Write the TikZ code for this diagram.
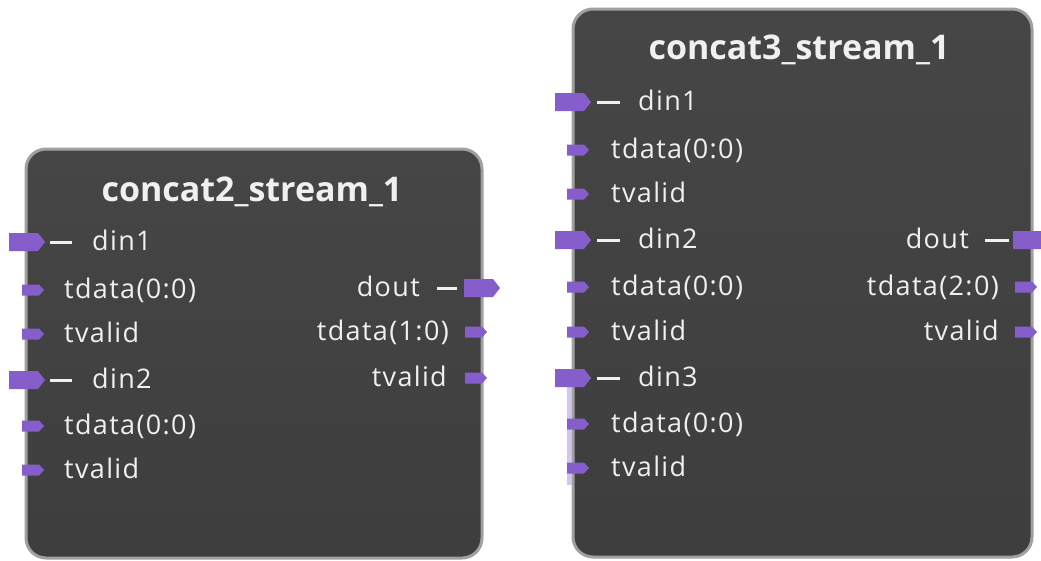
\documentclass[tikz,border=0pt]{standalone}
\usepackage{fontspec}
\setmainfont{Open Sans}
\definecolor{portc}{RGB}{134,94,204}
\definecolor{blockfill}{RGB}{70,70,70}
\definecolor{blockline}{RGB}{160,160,160}
\definecolor{txt}{RGB}{240,240,240}
\tikzset{
  block/.style={draw=blockline, line width=3pt, rounded corners=20pt, top color=blockfill, bottom color=blockfill!88!black, inner sep=0pt},
  lbl/.style={text=txt, inner sep=0pt, font=\fontsize{27}{30}\selectfont\addfontfeatures{LetterSpace=5}},
  ttl/.style={text=txt, inner sep=0pt, font=\fontsize{34}{38}\selectfont\bfseries},
  dashln/.style={draw=txt, line width=3pt},
  pics/bigport/.style={code={\fill[portc] (0,-9) -- (29,-9) -- (36,0) -- (29,9) -- (0,9) -- cycle;}},
  pics/smallport/.style={code={\fill[portc] (0,-5.5) -- (17,-5.5) -- (22,0) -- (17,5.5) -- (0,5.5) -- cycle;}},
}
\begin{document}
\begin{tikzpicture}[x=1pt, y=-1pt]
\useasboundingbox (0,0) rectangle (1041,560);
\clip (0,0) rectangle (1041,560);
% blocks
\node[block, minimum width=456pt, minimum height=409pt] (b1) at (254,353.5) {};
\node[block, minimum width=459pt, minimum height=548pt] (b2) at (802.5,283) {};
\node[ttl, anchor=mid] (t1) at (252,199) {concat2\_stream\_1};
\node[ttl, anchor=mid] (t2) at (799,57) {concat3\_stream\_1};
% faint highlight
\fill[portc!45!white, opacity=0.8] (567,385) rectangle (572,485);
% ---- block 1 inputs
\pic at (9,242) {bigport};
\draw[dashln] (50,242) -- (72,242);
\node[lbl, anchor=mid west] (b1din1) at (92,248) {din1};
\pic at (22,290) {smallport};
\node[lbl, anchor=mid west] (b1td1) at (64,296) {tdata(0:0)};
\pic at (22,334) {smallport};
\node[lbl, anchor=mid west] (b1tv1) at (64,340) {tvalid};
\pic at (9,380) {bigport};
\draw[dashln] (50,380) -- (72,380);
\node[lbl, anchor=mid west] (b1din2) at (92,386) {din2};
\pic at (22,426) {smallport};
\node[lbl, anchor=mid west] (b1td2) at (64,432) {tdata(0:0)};
\pic at (22,470) {smallport};
\node[lbl, anchor=mid west] (b1tv2) at (64,476) {tvalid};
% ---- block 1 outputs
\pic at (464,288) {bigport};
\draw[dashln] (437,288) -- (457,288);
\node[lbl, anchor=mid east] (b1dout) at (420,294) {dout};
\pic at (465,332) {smallport};
\node[lbl, anchor=mid east] (b1tdo) at (449,338) {tdata(1:0)};
\pic at (465,378) {smallport};
\node[lbl, anchor=mid east] (b1tvo) at (447,384) {tvalid};
% ---- block 2 inputs
\pic at (555,102) {bigport};
\draw[dashln] (597,102) -- (620,102);
\node[lbl, anchor=mid west] (b2din1) at (638,108) {din1};
\pic at (567,150) {smallport};
\node[lbl, anchor=mid west] (b2td1) at (611,156) {tdata(0:0)};
\pic at (567,194) {smallport};
\node[lbl, anchor=mid west] (b2tv1) at (611,200) {tvalid};
\pic at (555,240) {bigport};
\draw[dashln] (597,240) -- (620,240);
\node[lbl, anchor=mid west] (b2din2) at (638,246) {din2};
\pic at (567,287) {smallport};
\node[lbl, anchor=mid west] (b2td2) at (611,293) {tdata(0:0)};
\pic at (567,332) {smallport};
\node[lbl, anchor=mid west] (b2tv2) at (611,338) {tvalid};
\pic at (555,378) {bigport};
\draw[dashln] (597,378) -- (620,378);
\node[lbl, anchor=mid west] (b2din3) at (638,384) {din3};
\pic at (567,424) {smallport};
\node[lbl, anchor=mid west] (b2td3) at (611,430) {tdata(0:0)};
\pic at (567,468) {smallport};
\node[lbl, anchor=mid west] (b2tv3) at (611,474) {tvalid};
% ---- block 2 outputs
\pic at (1013,240) {bigport};
\draw[dashln] (985,240) -- (1009,240);
\node[lbl, anchor=mid east] (b2dout) at (969,246) {dout};
\pic at (1015,287) {smallport};
\node[lbl, anchor=mid east] (b2tdo) at (999,293) {tdata(2:0)};
\pic at (1015,332) {smallport};
\node[lbl, anchor=mid east] (b2tvo) at (999,338) {tvalid};
\end{tikzpicture}
\end{document}
